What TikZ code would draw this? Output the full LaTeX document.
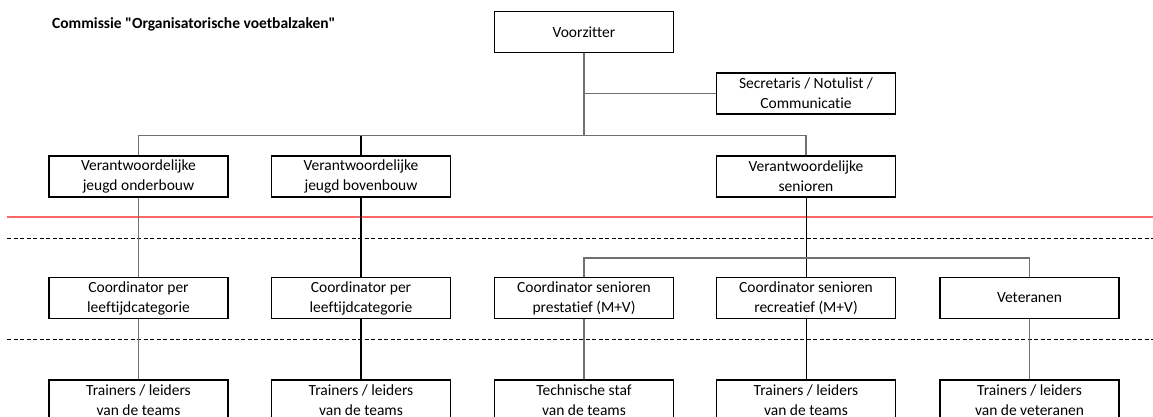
\documentclass[tikz,border=0pt]{standalone}
\usepackage{fontspec}
\setmainfont{Carlito}[Ligatures={TeXOff,CommonOff}]
\definecolor{linegray}{HTML}{707070}
\begin{document}
\begin{tikzpicture}[x=1pt,y=-1pt,
  box/.style={draw=black, line width=1.1pt, minimum width=179pt, minimum height=41pt, inner sep=0pt, align=center, font=\fontsize{15.5}{20}\selectfont, fill=white},
  conn/.style={draw=linegray, line width=1.8pt},
  strong/.style={draw=black, line width=1.8pt},
  fine/.style={draw=black, line width=0.9pt},
  sep/.style={draw=black, line width=1pt, dash pattern=on 4pt off 2.5pt},
  redline/.style={draw=red!60, line width=1.4pt}]
\useasboundingbox (0,0) rectangle (1153,416);
\clip (0,0) rectangle (1153,416);

% separator lines
\coordinate (rl) at (7,217); \coordinate (rr) at (1153,217);
\coordinate (d1l) at (7,238); \coordinate (d1r) at (1153,238);
\coordinate (d2l) at (7,339); \coordinate (d2r) at (1153,339);
\draw[redline] (rl) -- (rr);
\draw[sep] (d1l) -- (d1r);
\draw[sep] (d2l) -- (d2r);

% title
\node[anchor=west, font=\bfseries\fontsize{15.5}{18}\selectfont, inner sep=0pt] (title) at (52,24) {Commissie "Organisatorische voetbalzaken"};

% boxes
\node[box] (vz) at (584,32) {Voorzitter};
\node[box] (sec) at (806,93.5) {Secretaris / Notulist /\\Communicatie};

\node[box] (r1) at (138.5,176.5) {Verantwoordelijke\\jeugd onderbouw};
\node[box] (r2) at (361,176.5) {Verantwoordelijke\\jeugd bovenbouw};
\node[box] (r3) at (806,176.5) {Verantwoordelijke\\senioren};

\node[box] (c1) at (138.5,298) {Coordinator per\\leeftijdcategorie};
\node[box] (c2) at (361,298) {Coordinator per\\leeftijdcategorie};
\node[box] (c3) at (584,298) {Coordinator senioren\\prestatief (M+V)};
\node[box] (c4) at (806,298) {Coordinator senioren\\recreatief (M+V)};
\node[box] (c5) at (1029.5,298) {Veteranen};

\node[box] (t1) at (138.5,400.5) {Trainers / leiders\\van de teams};
\node[box] (t2) at (361,400.5) {Trainers / leiders\\van de teams};
\node[box] (t3) at (584,400.5) {Technische staf\\van de teams};
\node[box] (t4) at (806,400.5) {Trainers / leiders\\van de teams};
\node[box] (t5) at (1029.5,400.5) {Trainers / leiders\\van de veteranen};

% bus coordinates
\coordinate (b1) at (584,135.5);
\coordinate (bL) at (138.5,135.5);
\coordinate (bR) at (806,135.5);
\coordinate (b2L) at (584,258);
\coordinate (b2R) at (1029.5,258);

% connectors
\draw[conn] (vz.south) -- (b1);
\draw[conn] (vz.south |- sec.west) -- (sec.west);
\draw[conn] (r1.north) -- (bL) -- (bR) -- (r3.north);
\draw[strong] (r2.north) -- (r2.north |- bL);

\draw[conn] (r1.south) -- (c1.north);
\draw[strong] (r2.south) -- (c2.north);
\draw[fine] (r3.south) -- (c4.north);
\draw[conn] (c3.north) -- (b2L) -- (b2R) -- (c5.north);

\draw[conn] (c1.south) -- (t1.north);
\draw[strong] (c2.south) -- (t2.north);
\draw[conn] (c3.south) -- (t3.north);
\draw[fine] (c4.south) -- (t4.north);
\draw[conn] (c5.south) -- (t5.north);
\end{tikzpicture}
\end{document}
